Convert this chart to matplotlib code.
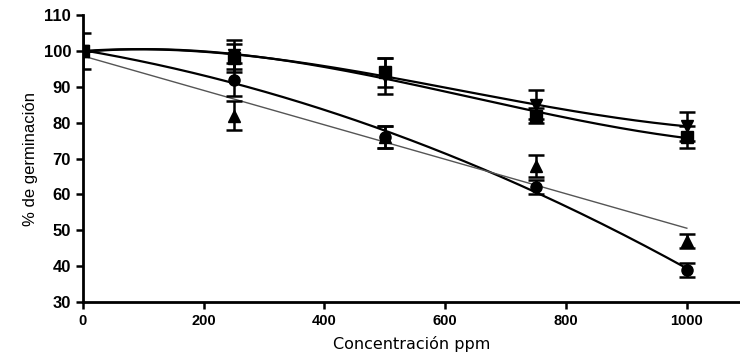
import numpy as np
import matplotlib
matplotlib.use('Agg')
import matplotlib.pyplot as plt

# datos
conc = [0, 250, 500, 750, 1000]

cuadrado = [100, 98, 94, 82, 76]
cuadrado_err = [0, 4, 4, 2, 3]

tri_inv = [100, 99, 93, 85, 79]
tri_inv_err = [5, 4, 5, 4, 4]

triangulo = [100, 82, 76, 68, 47]
triangulo_err = [0, 4, 3, 3, 2]

circulo = [100, 92, 76, 62, 39]
circulo_err = [0, 4.5, 3, 2, 2]

xticks = [0, 200, 400, 600, 800, 1000]
yticks = [30, 40, 50, 60, 70, 80, 90, 100, 110]

fig = plt.figure(figsize=(7.4, 3.58), dpi=100)
ax = fig.add_axes([0.112, 0.156, 0.888, 0.802])

xs = np.linspace(0, 1000, 200)

# (valores, error, marcador, grado del ajuste, grosor, color)
series = [
    (cuadrado, cuadrado_err, 's', 3, 1.6, 'black'),
    (tri_inv, tri_inv_err, 'v', 3, 1.6, 'black'),
    (circulo, circulo_err, 'o', 2, 1.6, 'black'),
    (triangulo, triangulo_err, '^', 1, 1.0, '#555555'),
]

for vals, err, mk, grado, lw, col in series:
    coef = np.polyfit(conc, vals, grado)
    ax.plot(xs, np.polyval(coef, xs), color=col, lw=lw, zorder=2)
    ax.errorbar(conc, vals, yerr=err, fmt=mk, color='black', ms=8,
                elinewidth=1.8, capsize=6, capthick=1.8, zorder=3)

ax.set_xlim(0, 1088)
ax.set_ylim(30, 110)
ax.set_xticks(xticks)
ax.set_yticks(yticks)

for s in ['top', 'right']:
    ax.spines[s].set_visible(False)
for s in ['left', 'bottom']:
    ax.spines[s].set_linewidth(2)

ax.tick_params(axis='both', width=1.8, length=5, direction='out')
for lab in ax.get_xticklabels() + ax.get_yticklabels():
    lab.set_fontfamily('Liberation Sans')
    lab.set_fontweight('bold')
    lab.set_fontsize(10.5)
ax.tick_params(axis='y', labelsize=12)

ax.set_xlabel('Concentración ppm', fontsize=11.5, family='DejaVu Sans', labelpad=6)
ax.set_ylabel('% de germinación', fontsize=12, family='Liberation Sans', labelpad=4)

plt.savefig('out.png', dpi=100)
